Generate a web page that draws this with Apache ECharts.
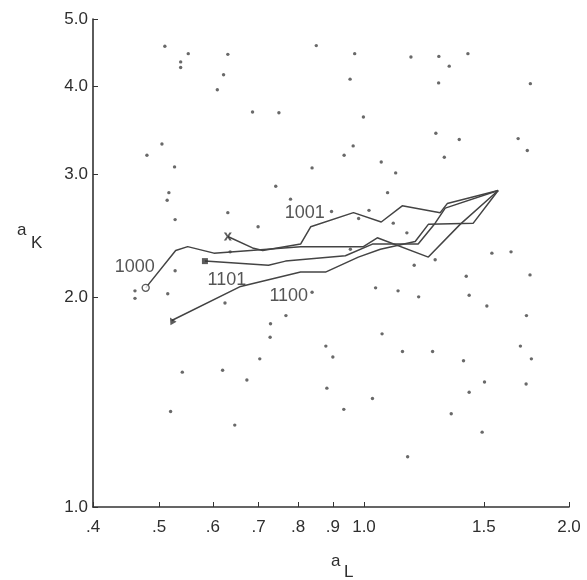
<!DOCTYPE html>
<html><head><meta charset="utf-8">
<script src="https://cdn.jsdelivr.net/npm/echarts@6/dist/echarts.min.js"></script>
<style>html,body{margin:0;padding:0;background:#fff}#c{width:587px;height:580px}</style>
</head><body><div id="c"></div>
<script>
// Tick values
const xTicks = [0.4, 0.5, 0.6, 0.7, 0.8, 0.9, 1.0, 1.5, 2.0];
const yTicks = [1.0, 2.0, 3.0, 4.0, 5.0];

// Scatter dots (a_L, a_K)
const dotX = [0.510,0.538,0.538,0.552,0.609,0.622,0.631,0.686,0.750,0.505,0.480,0.527,0.742,0.780,0.517,0.514,0.631,0.528,0.699,
  0.851,0.969,1.172,1.288,1.334,1.421,0.954,1.287,1.755,0.998,1.275,1.380,1.684,1.737,1.312,0.964,0.935,0.839,1.060,1.113,1.083,
  0.896,1.017,0.982,1.104,1.156,0.955,1.541,1.644,1.185,1.272,1.413,1.753,0.839,1.040,1.122,1.203,1.427,1.515,1.732,1.063,0.879,
  0.900,1.139,1.261,1.697,1.400,1.761,0.882,1.029,1.503,1.730,1.427,0.934,1.343,1.491,1.159,0.636,0.528,0.461,0.461,0.515,0.625,
  0.768,0.729,0.728,0.703,0.541,0.620,0.673,0.520,0.646];
const dotY = [4.57,4.34,4.26,4.46,3.96,4.16,4.45,3.68,3.67,3.31,3.19,3.07,2.88,2.76,2.82,2.75,2.64,2.58,2.52,
  4.58,4.46,4.41,4.42,4.28,4.46,4.10,4.05,4.04,3.62,3.43,3.36,3.37,3.24,3.17,3.29,3.19,3.06,3.12,3.01,2.82,
  2.65,2.66,2.59,2.55,2.47,2.34,2.31,2.32,2.22,2.26,2.14,2.15,2.03,2.06,2.04,2.00,2.01,1.94,1.88,1.77,1.70,
  1.64,1.67,1.67,1.70,1.62,1.63,1.48,1.43,1.51,1.50,1.46,1.38,1.36,1.28,1.18,2.32,2.18,2.04,1.99,2.02,1.96,
  1.88,1.83,1.75,1.63,1.56,1.57,1.52,1.37,1.31];

// Paths
const pathNames = ['1000', '1001', '1101', '1100'];
const path1000X = [0.478,0.529,0.551,0.602,0.807,0.998,1.046,1.243,1.384,1.574];
const path1000Y = [2.06,2.33,2.36,2.31,2.36,2.36,2.43,2.28,2.54,2.84];
const path1001X = [0.631,0.686,0.710,0.807,0.835,0.965,1.060,1.138,1.294,1.325,1.574];
const path1001Y = [2.44,2.35,2.33,2.38,2.52,2.64,2.56,2.70,2.64,2.72,2.84];
const path1101X = [0.584,0.724,0.767,0.939,1.029,1.201,1.272,1.316,1.574];
const path1101Y = [2.25,2.22,2.25,2.29,2.38,2.38,2.55,2.68,2.84];
const path1100X = [0.522,0.659,0.807,0.878,0.981,1.057,1.189,1.243,1.447,1.574];
const path1100Y = [1.85,2.07,2.17,2.17,2.28,2.34,2.40,2.54,2.55,2.84];

const paths = {
  '1000': [path1000X, path1000Y],
  '1001': [path1001X, path1001Y],
  '1101': [path1101X, path1101Y],
  '1100': [path1100X, path1100Y]
};
const FONT = 'Liberation Sans, Arial, sans-serif';
const markerStyle = {
  '1000': {symbol: 'circle', size: 7, offset: [-11, -21], rotate: 0, hollow: true},
  '1001': {symbol: 'path://M0,0 L3,0 L5,3.5 L7,0 L10,0 L6.5,5 L10,10 L7,10 L5,6.5 L3,10 L0,10 L3.5,5Z', size: 8, offset: [77, -24], rotate: 0},
  '1101': {symbol: 'rect', size: 6, offset: [22, 19], rotate: 0},
  '1100': {symbol: 'triangle', size: 7, offset: [117, -24], rotate: 30}
};

const zip = (xs, ys) => xs.map((x, i) => [x, ys[i]]);

const series = [];
series.push({
  type: 'scatter', data: zip(dotX, dotY), symbol: 'circle', symbolSize: 3.4,
  itemStyle: {color: '#444'}, silent: true, z: 2
});
pathNames.forEach(n => {
  series.push({
    type: 'line', data: zip(paths[n][0], paths[n][1]), showSymbol: false, symbol: 'none',
    lineStyle: {color: '#444', width: 1.5}, silent: true, z: 3
  });
});
series.push({
  type: 'scatter', silent: true, z: 4,
  data: pathNames.map(n => {
    const m = markerStyle[n];
    return {
      value: [paths[n][0][0], paths[n][1][0]],
      symbol: m.symbol, symbolSize: m.size, symbolRotate: m.rotate,
      itemStyle: m.hollow ? {color: '#fff', borderColor: '#333', borderWidth: 1.4} : {color: '#333'},
      label: {show: true, formatter: n, position: 'inside', offset: m.offset,
        color: '#2a2a2a', fontSize: 18, fontFamily: FONT}
    };
  })
});

const axisCommon = {
  type: 'log',
  axisLine: {show: true, lineStyle: {color: '#333', width: 1.6}},
  splitLine: {show: false},
  minorTick: {show: false},
  minorSplitLine: {show: false}
};

const chart = echarts.init(document.getElementById('c'), null, {renderer: 'canvas'});
chart.setOption({
  animation: false,
  backgroundColor: '#fff',
  grid: {left: 93, right: 18, top: 19, bottom: 73, containLabel: false, outerBoundsMode: 'none'},
  xAxis: Object.assign({}, axisCommon, {
    min: 0.4, max: 2.0, logBase: 10,
    axisTick: {show: true, inside: true, length: 5, customValues: xTicks, lineStyle: {color: '#333'}},
    axisLabel: {show: true, customValues: xTicks, margin: 12, color: '#2e2e2e', fontSize: 17,
      fontFamily: FONT,
      formatter: v => v < 1 ? '.' + Math.round(v * 10) : v.toFixed(1)}
  }),
  yAxis: Object.assign({}, axisCommon, {
    min: 1.0, max: 5.0, logBase: 10,
    axisTick: {show: true, inside: true, length: 5, customValues: yTicks, lineStyle: {color: '#333'}},
    axisLabel: {show: true, customValues: yTicks, margin: 5, color: '#2e2e2e', fontSize: 17,
      fontFamily: FONT,
      formatter: v => v.toFixed(1)}
  }),
  graphic: [
    {type: 'text', left: 17, top: 222, style: {text: 'a', fontSize: 17, fill: '#2e2e2e', fontFamily: FONT}},
    {type: 'text', left: 31, top: 235, style: {text: 'K', fontSize: 17, fill: '#2e2e2e', fontFamily: FONT}},
    {type: 'text', left: 331, top: 553, style: {text: 'a', fontSize: 17, fill: '#2e2e2e', fontFamily: FONT}},
    {type: 'text', left: 344, top: 564, style: {text: 'L', fontSize: 17, fill: '#2e2e2e', fontFamily: FONT}}
  ],
  series: series
});
</script>
</body></html>
